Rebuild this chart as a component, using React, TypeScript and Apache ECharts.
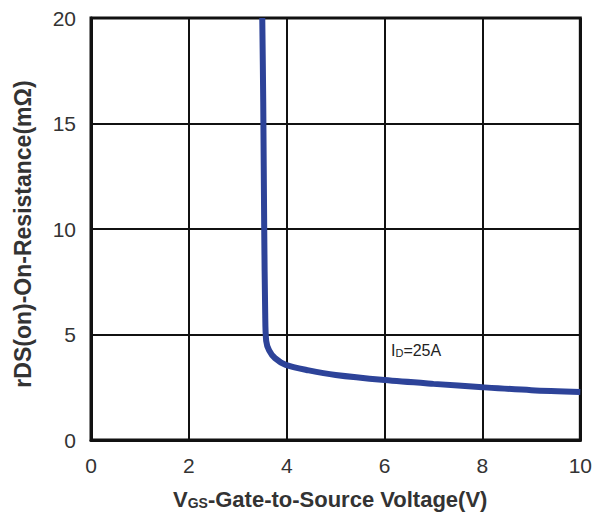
import React, { useEffect, useRef } from "react";
import * as echarts from "echarts";

const vgs = [3.5, 3.52, 3.54, 3.56, 3.58, 3.64, 3.76, 3.98, 4.45, 5, 6, 7, 8, 9, 10];
const rdsOn = [20, 16, 10, 6, 4.7, 4.25, 3.88, 3.56, 3.3, 3.08, 2.84, 2.66, 2.5, 2.36, 2.27];
const xTicks = [0, 2, 4, 6, 8, 10];
const yTicks = [0, 5, 10, 15, 20];

export default function App() {
  const ref = useRef<HTMLDivElement>(null);
  useEffect(() => {
    if (!ref.current) return;
    const chart = echarts.init(ref.current, null, { renderer: "svg" });
    const font = "'Liberation Sans', Arial, sans-serif";
    chart.setOption({
      animation: false,
      backgroundColor: "#ffffff",
      grid: {
        left: 91,
        right: 12,
        top: 18,
        bottom: 73,
        show: true,
        borderColor: "#111",
        borderWidth: 3,
      },
      xAxis: {
        type: "value",
        min: xTicks[0],
        max: xTicks[xTicks.length - 1],
        interval: 2,
        axisLine: { show: true, lineStyle: { color: "#111", width: 3 } },
        axisTick: { show: false },
        splitLine: { show: true, lineStyle: { color: "#111", width: 2 } },
        axisLabel: { color: "#333", fontSize: 21, fontFamily: font, margin: 15 },
      },
      yAxis: {
        type: "value",
        min: yTicks[0],
        max: yTicks[yTicks.length - 1],
        interval: 5,
        axisLine: { show: true, lineStyle: { color: "#111", width: 3 } },
        axisTick: { show: false },
        splitLine: { show: true, lineStyle: { color: "#111", width: 2 } },
        axisLabel: { color: "#333", fontSize: 21, fontFamily: font, margin: 15 },
      },
      series: [
        {
          type: "line",
          data: vgs.map((v, i) => [v, rdsOn[i]]),
          smooth: 0.3,
          symbol: "none",
          lineStyle: { color: "#2d4399", width: 6 },
          z: 5,
        },
      ],
      graphic: [
        {
          type: "text",
          left: 173,
          top: 488,
          style: {
            text: "{a|V}{b|GS}{a|-Gate-to-Source Voltage(V)}",
            rich: {
              a: { fontSize: 22, fontWeight: "bold", fontFamily: font, fill: "#333" },
              b: { fontSize: 14, fontWeight: "bold", fontFamily: font, fill: "#333", verticalAlign: "bottom", padding: [7, 0, 0, 0] },
            },
          },
        },
        {
          type: "text",
          x: 23,
          y: 234,
          rotation: Math.PI / 2,
          style: {
            text: "rDS(on)-On-Resistance(mΩ)",
            fontSize: 23,
            fontWeight: "bold",
            fontFamily: font,
            fill: "#333",
            align: "center",
            verticalAlign: "middle",
          },
        },
        {
          type: "text",
          left: 391,
          top: 342,
          style: {
            text: "{a|I}{b|D}{a|=25A}",
            rich: {
              a: { fontSize: 16, fontFamily: font, fill: "#222" },
              b: { fontSize: 11, fontFamily: font, fill: "#222", padding: [5, 0, 0, 0] },
            },
          },
        },
      ],
    });
    return () => chart.dispose();
  }, []);
  return <div ref={ref} style={{ width: 595, height: 513, position: "absolute", left: 0, top: 0 }} />;
}
